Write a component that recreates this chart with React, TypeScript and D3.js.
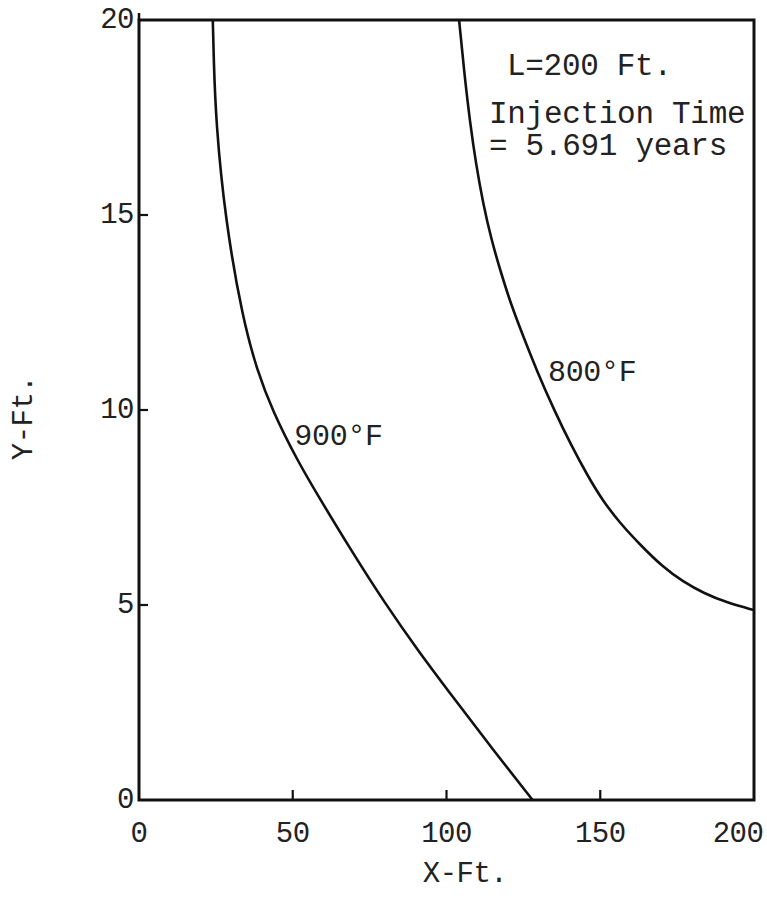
import React from "react";
import * as d3 from "d3";

const W = 767;
const H = 911;

const xTicks = [0, 50, 100, 150, 200];
const yTicks = [0, 5, 10, 15, 20];

const curve900X = [24, 24.3, 25, 28, 33.8, 38.5, 43.3, 51.5, 59, 69, 79.5, 91, 102.5, 115, 128];
const curve900Y = [20, 19, 17.4, 14.9, 12.3, 11, 10, 8.7, 7.7, 6.4, 5.1, 3.8, 2.6, 1.3, 0];

const curve800X = [104.1, 105.7, 107.6, 109.6, 111.9, 114.5, 117.4, 121.0, 124.9, 129.4, 135.0, 140.5, 146.0, 150.6, 156.4, 162.9, 170.4, 176.9, 183.7, 191.5, 200];
const curve800Y = [20, 18.7, 17.4, 16.3, 15.3, 14.4, 13.6, 12.7, 11.9, 11.0, 10.0, 9.1, 8.3, 7.7, 7.1, 6.55, 5.97, 5.6, 5.3, 5.05, 4.87];

const labels = [
  { text: "900°F", x: 50.5, y: 9.1 },
  { text: "800°F", x: 133, y: 10.75 },
];

const FONT = "'Liberation Mono', 'DejaVu Sans Mono', monospace";

export default function App() {
  const x = d3.scaleLinear().domain([0, 200]).range([139, 754]);
  const y = d3.scaleLinear().domain([0, 20]).range([800, 20]);

  const line = d3
    .line<[number, number]>()
    .x((d) => x(d[0]))
    .y((d) => y(d[1]))
    .curve(d3.curveBasis);

  const c900 = curve900X.map((v, i) => [v, curve900Y[i]] as [number, number]);
  const c800 = curve800X.map((v, i) => [v, curve800Y[i]] as [number, number]);

  const textStyle = { fontFamily: FONT, fill: "#222" };

  return (
    <svg
      width={W}
      height={H}
      style={{ position: "absolute", left: 0, top: 0, background: "#fff" }}
    >
      <rect x={0} y={0} width={W} height={H} fill="#fff" />
      {/* curves */}
      <path d={line(c900) || ""} fill="none" stroke="#111" strokeWidth={2.6} />
      <path d={line(c800) || ""} fill="none" stroke="#111" strokeWidth={2.6} />

      {/* frame */}
      <rect
        x={x(0)}
        y={y(20)}
        width={x(200) - x(0)}
        height={y(0) - y(20)}
        fill="none"
        stroke="#111"
        strokeWidth={3}
      />
      <line x1={x(0)} x2={x(0)} y1={y(20) - 7} y2={y(20)} stroke="#111" strokeWidth={2.5} />

      {/* x ticks */}
      {xTicks.filter((t) => t > 0 && t < 200).map((t) => (
        <line key={"xt" + t} x1={x(t)} x2={x(t)} y1={y(0)} y2={y(0) - 10} stroke="#111" strokeWidth={2.2} />
      ))}
      {/* y ticks */}
      {yTicks.filter((t) => t > 0 && t < 20).map((t) => (
        <line key={"yt" + t} x1={x(0)} x2={x(0) + 9} y1={y(t)} y2={y(t)} stroke="#111" strokeWidth={2.2} />
      ))}

      {/* x tick labels */}
      {xTicks.map((t) => (
        <text
          key={"xl" + t}
          x={t === 200 ? x(t) - 16 : x(t)}
          y={y(0) + 42}
          textAnchor="middle"
          fontSize={29}
          letterSpacing={-0.5}
          {...textStyle}
        >
          {t}
        </text>
      ))}
      {/* y tick labels */}
      {yTicks.map((t) => (
        <text
          key={"yl" + t}
          x={x(0) - 5}
          y={y(t) + 8}
          textAnchor="end"
          fontSize={29}
          letterSpacing={-0.5}
          {...textStyle}
        >
          {t}
        </text>
      ))}

      {/* axis titles */}
      <text x={465} y={882} textAnchor="middle" fontSize={29} letterSpacing={-0.5} {...textStyle}>
        X-Ft.
      </text>
      <text
        transform={`translate(32,418) rotate(-90)`}
        textAnchor="middle"
        fontSize={29}
        letterSpacing={-0.5}
        {...textStyle}
      >
        Y-Ft.
      </text>

      {/* annotations */}
      <text x={507} y={75} fontSize={31} letterSpacing={-0.3} {...textStyle}>
        L=200 Ft.
      </text>
      <text x={489} y={123} fontSize={31} letterSpacing={-0.3} {...textStyle}>
        Injection Time
      </text>
      <text x={489} y={155} fontSize={31} letterSpacing={-0.3} {...textStyle}>
        = 5.691 years
      </text>

      {labels.map((l) => (
        <text key={l.text} x={x(l.x)} y={y(l.y)} fontSize={30} letterSpacing={-0.3} {...textStyle}>
          {l.text}
        </text>
      ))}
    </svg>
  );
}
